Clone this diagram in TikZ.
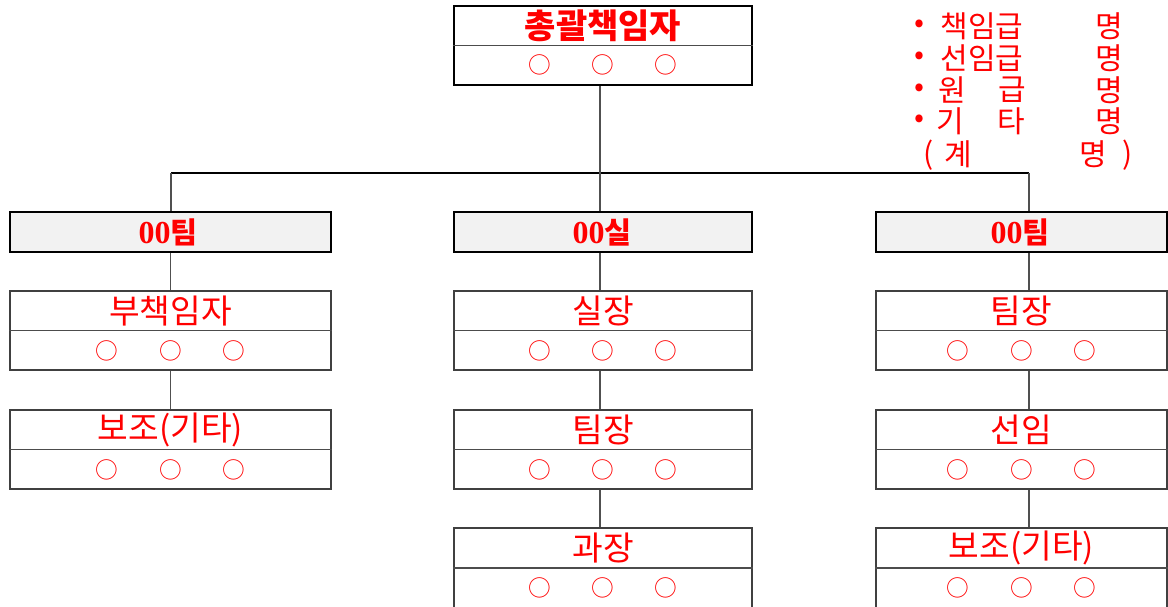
\documentclass[tikz,border=0pt]{standalone}
\usepackage{fontspec}
\setmainfont{Noto Sans CJK KR}
\newfontfamily\krfont{Noto Sans CJK KR}
\newfontfamily\numfont{Liberation Serif}
\definecolor{tred}{RGB}{255,0,0}
\definecolor{teamfill}{RGB}{242,242,242}
\definecolor{conncol}{RGB}{80,80,80}
\newcommand\threecirc{○\hspace{30.5pt}○\hspace{30.5pt}○}
\begin{document}
\begin{tikzpicture}[x=0.75pt,y=-0.75pt,
  thickbox/.style={draw=black, line width=2.2pt, inner sep=0pt},
  thinbox/.style={draw=black!75, line width=1.1pt, inner sep=0pt, minimum height=59.25pt},
  divider/.style={draw=black!70, line width=0.9pt},
  conn/.style={draw=conncol, line width=0.8pt},
  bus/.style={draw=black, line width=0.8pt},
  titlebold/.style={text=tred, inner sep=0pt, font=\krfont\bfseries\fontsize{25.5pt}{25.5pt}\selectfont},
  teamtext/.style={text=tred, inner sep=0pt, font=\krfont\bfseries\fontsize{22pt}{22pt}\selectfont},
  roletext/.style={text=tred, inner sep=0pt, font=\krfont\fontsize{25pt}{25pt}\selectfont},
  circtext/.style={text=tred, inner sep=0pt, font=\krfont\fontsize{17pt}{17pt}\selectfont},
  legend/.style={text=tred, inner sep=0pt, font=\krfont\fontsize{22.5pt}{22.5pt}\selectfont},
  bullet/.style={text=tred, inner sep=0pt, font=\krfont\fontsize{22pt}{22pt}\selectfont}]
\useasboundingbox (0,0) rectangle (1168,607);

% top box
\node[thickbox, minimum width=223.5pt, minimum height=59.25pt] (top) at (603,45.5) {};
\draw[divider] (top.west) -- (top.east);
\node[titlebold] (topT) at (603,26) {총괄책임자};
\node[circtext] (topC) at (603,65) {\threecirc};

% legend
\node[bullet] (l1b) at (919,26) {•};
\node[legend] (l1a) at (982,26) {책임급};
\node[legend] (l1c) at (1109,26) {명};
\node[bullet] (l2b) at (919,58) {•};
\node[legend] (l2a) at (982,58) {선임급};
\node[legend] (l2c) at (1109,58) {명};
\node[bullet] (l3b) at (919,90) {•};
\node[legend] (l3a) at (952,90) {원};
\node[legend] (l3d) at (1012,90) {급};
\node[legend] (l3c) at (1109,90) {명};
\node[bullet] (l4b) at (919,121) {•};
\node[legend] (l4a) at (950,121) {기};
\node[legend] (l4d) at (1011,121) {타};
\node[legend] (l4c) at (1109,121) {명};
\node[legend] (l5p) at (929,155) {(};
\node[legend] (l5a) at (958,154) {계};
\node[legend] (l5c) at (1093,154) {명};
\node[legend] (l5q) at (1128,155) {)};

% team boxes
\node[thickbox, fill=teamfill, minimum width=240.75pt, minimum height=30pt] (t1) at (170.5,232) {};
\node[thickbox, fill=teamfill, minimum width=223.5pt, minimum height=30pt] (t2) at (603,232) {};
\node[thickbox, fill=teamfill, minimum width=218.25pt, minimum height=30pt] (t3) at (1021.5,232) {};
\node[teamtext] (t1T) at (168,232) {{\numfont\bfseries\fontsize{24pt}{24pt}\selectfont 00}팀};
\node[teamtext] (t2T) at (602,232) {{\numfont\bfseries\fontsize{24pt}{24pt}\selectfont 00}실};
\node[teamtext] (t3T) at (1020,232) {{\numfont\bfseries\fontsize{24pt}{24pt}\selectfont 00}팀};

% left column
\node[thinbox, minimum width=240.75pt] (a1) at (170.5,330.5) {};
\draw[divider] (a1.west) -- (a1.east);
\node[roletext] (a1T) at (170.5,311) {부책임자};
\node[circtext] (a1C) at (170.5,350.5) {\threecirc};
\node[thinbox, minimum width=240.75pt] (a2) at (170.5,449.5) {};
\draw[divider] (a2.west) -- (a2.east);
\node[roletext] (a2T) at (170.5,430) {보조(기타)};
\node[circtext] (a2C) at (170.5,469.5) {\threecirc};

% middle column
\node[thinbox, minimum width=223.5pt] (m1) at (603,330.5) {};
\draw[divider] (m1.west) -- (m1.east);
\node[roletext] (m1T) at (603,311) {실장};
\node[circtext] (m1C) at (603,350.5) {\threecirc};
\node[thinbox, minimum width=223.5pt] (m2) at (603,449.5) {};
\draw[divider] (m2.west) -- (m2.east);
\node[roletext] (m2T) at (603,430) {팀장};
\node[circtext] (m2C) at (603,469.5) {\threecirc};
\node[thinbox, minimum width=223.5pt, minimum height=60pt] (m3) at (603,568) {};
\draw[divider] (m3.west) -- (m3.east);
\node[roletext] (m3T) at (603,548) {과장};
\node[circtext] (m3C) at (603,587.5) {\threecirc};

% right column
\node[thinbox, minimum width=218.25pt] (n1) at (1021.5,330.5) {};
\draw[divider] (n1.west) -- (n1.east);
\node[roletext] (n1T) at (1021.5,311) {팀장};
\node[circtext] (n1C) at (1021.5,350.5) {\threecirc};
\node[thinbox, minimum width=218.25pt] (n2) at (1021.5,449.5) {};
\draw[divider] (n2.west) -- (n2.east);
\node[roletext] (n2T) at (1021.5,430) {선임};
\node[circtext] (n2C) at (1021.5,469.5) {\threecirc};
\node[thinbox, minimum width=218.25pt, minimum height=60pt] (n3) at (1021.5,568) {};
\draw[divider] (n3.west) -- (n3.east);
\node[roletext] (n3T) at (1021.5,548) {보조(기타)};
\node[circtext] (n3C) at (1021.5,587.5) {\threecirc};

% connectors
\coordinate (busL) at (171,173);
\coordinate (busR) at (1029,173);
\draw[black!15, line width=1pt] (753,172.3) -- (876,172.3);
\draw[bus] (busL) -- (busR);
\draw[conn] ([xshift=-2.25pt]top.south) -- ([xshift=-2.25pt]t2.north);
\draw[conn] (busL) -- (busL |- t1.north);
\draw[conn] (busR) -- (busR |- t3.north);
\draw[conn] (t1.south) -- (a1.north);
\draw[conn] (a1.south) -- (a2.north);
\draw[conn] ([xshift=-2.25pt]t2.south) -- ([xshift=-2.25pt]m1.north);
\draw[conn] ([xshift=-2.25pt]m1.south) -- ([xshift=-2.25pt]m2.north);
\draw[conn] ([xshift=-2.25pt]m2.south) -- ([xshift=-2.25pt]m3.north);
\draw[conn] ([xshift=5.625pt]t3.south) -- ([xshift=5.625pt]n1.north);
\draw[conn] ([xshift=5.625pt]n1.south) -- ([xshift=5.625pt]n2.north);
\draw[conn] ([xshift=5.625pt]n2.south) -- ([xshift=5.625pt]n3.north);
\end{tikzpicture}
\end{document}
